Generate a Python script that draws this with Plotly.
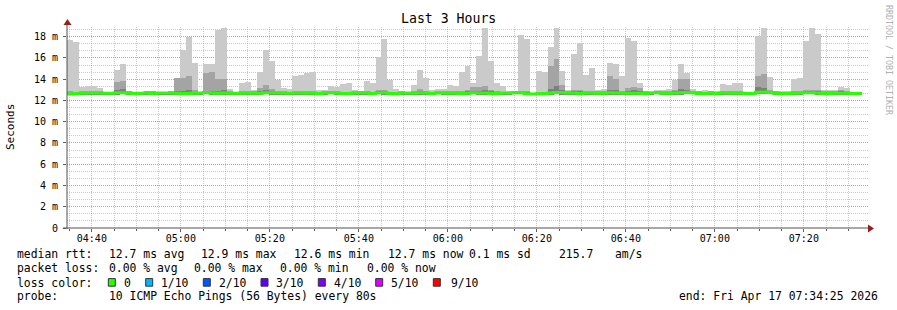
import plotly.graph_objects as go
from datetime import datetime, timedelta

# ---------------- data ----------------
t_start = datetime(2026, 4, 17, 4, 34, 25)
t_end = datetime(2026, 4, 17, 7, 34, 25)
step_s = 80  # seconds per RRD step

# smoke: outer band top (max ping), ms
hi = [17.7, 17.5, 13.3, 13.4, 13.4, 13.2, 12.8, 12.8, 14.9, 15.4,
      12.9, 12.8, 12.8, 12.9, 12.9, 12.75, 12.75, 12.9, 14.1, 16.75,
      18.0, 15.55, 12.75, 15.4, 15.4, 18.6, 18.85, 13.1, 12.75, 13.6,
      13.7, 13.0, 14.7, 16.75, 15.7, 13.9, 13.2, 13.1, 14.3, 14.4,
      14.55, 14.7, 13.0, 13.0, 13.4, 13.25, 13.55, 13.65, 13.0, 12.9,
      13.85, 13.65, 16.1, 17.8, 13.95, 13.05, 12.9, 12.8, 13.5, 14.9,
      14.15, 13.0, 13.1, 13.1, 13.5, 13.4, 14.7, 15.2, 13.65, 16.2,
      18.8, 15.7, 13.6, 13.4, 12.9, 12.9, 18.15, 17.75, 12.75, 14.8,
      14.7, 17.0, 18.85, 14.8, 13.0, 16.4, 17.45, 14.4, 15.1, 13.0,
      13.1, 15.55, 15.4, 14.3, 17.9, 17.6, 13.65, 12.9, 12.8, 13.0,
      13.0, 13.1, 13.9, 15.45, 14.6, 13.05, 12.9, 13.0, 12.9, 12.9,
      13.55, 13.45, 13.65, 13.65, 12.8, 12.8, 18.05, 18.85, 14.25, 12.9,
      12.9, 12.9, 14.0, 14.15, 17.6, 18.85, 18.25, 13.0, 13.0, 13.0,
      13.3, 13.2, 12.8, 12.8]

# smoke: second band top, ms
mid = [12.85, 12.80, 12.88, 12.85, 12.90, 12.85, 12.80, 12.80, 13.70, 13.80,
       12.90, 12.80, 12.80, 12.85, 12.85, 12.75, 12.75, 12.85, 14.10, 14.10,
       14.30, 13.00, 12.75, 14.60, 14.70, 14.00, 14.05, 12.90, 12.75, 12.85,
       12.85, 12.85, 13.20, 13.50, 13.10, 12.85, 12.85, 12.80, 12.90, 12.90,
       12.85, 12.85, 12.80, 12.85, 12.85, 12.85, 12.80, 12.80, 12.85, 12.85,
       12.85, 12.80, 13.00, 13.00, 12.80, 12.80, 12.85, 12.80, 12.85, 13.10,
       12.90, 12.80, 12.85, 12.85, 12.85, 12.85, 12.90, 13.00, 13.30, 13.30,
       13.40, 13.00, 12.85, 12.80, 12.80, 12.85, 12.85, 12.90, 12.75, 12.80,
       12.80, 15.20, 15.90, 13.50, 12.85, 12.95, 12.95, 12.85, 12.85, 12.85,
       12.85, 14.30, 14.00, 12.90, 13.20, 13.30, 13.20, 12.85, 12.80, 12.85,
       12.85, 12.90, 12.95, 14.00, 14.00, 12.90, 12.85, 12.80, 12.85, 12.80,
       12.85, 12.85, 12.85, 12.85, 12.80, 12.80, 14.30, 14.50, 13.00, 12.85,
       12.80, 12.80, 12.85, 12.90, 12.95, 13.00, 12.95, 12.85, 12.85, 12.85,
       12.95, 12.90, 12.80, 12.80]

# smoke: third band top, ms
inner = [12.75, 12.75, 12.78, 12.78, 12.80, 12.78, 12.75, 12.75, 13.00, 13.05,
         12.78, 12.75, 12.75, 12.78, 12.75, 12.75, 12.75, 12.78, 12.85, 12.85,
         12.95, 12.80, 12.75, 12.85, 12.85, 12.90, 12.95, 12.78, 12.75, 12.78,
         12.78, 12.78, 12.85, 12.95, 12.85, 12.78, 12.78, 12.75, 12.80, 12.80,
         12.78, 12.78, 12.75, 12.78, 12.80, 12.78, 12.75, 12.75, 12.78, 12.78,
         12.78, 12.75, 12.85, 12.85, 12.75, 12.75, 12.78, 12.75, 12.78, 12.85,
         12.80, 12.75, 12.78, 12.78, 12.78, 12.78, 12.80, 12.85, 12.90, 12.90,
         12.95, 12.85, 12.78, 12.75, 12.75, 12.80, 12.80, 12.80, 12.72, 12.75,
         12.78, 13.10, 13.40, 12.95, 12.78, 12.85, 12.85, 12.78, 12.78, 12.78,
         12.78, 13.00, 13.00, 12.80, 12.90, 12.95, 12.90, 12.78, 12.75, 12.78,
         12.78, 12.80, 12.85, 13.10, 13.00, 12.82, 12.78, 12.75, 12.78, 12.75,
         12.78, 12.78, 12.78, 12.78, 12.75, 12.75, 13.30, 13.15, 12.90, 12.78,
         12.75, 12.75, 12.78, 12.80, 12.85, 12.85, 12.85, 12.78, 12.78, 12.78,
         12.85, 12.80, 12.75, 12.75]

# smoke: bottom (min ping), ms
lo = [12.55, 12.58, 12.55, 12.56, 12.56, 12.56, 12.52, 12.54, 12.56, 12.58,
      12.50, 12.50, 12.55, 12.56, 12.50, 12.56, 12.56, 12.56, 12.52, 12.54,
      12.52, 12.56, 12.56, 12.58, 12.54, 12.52, 12.52, 12.56, 12.56, 12.56,
      12.52, 12.54, 12.56, 12.58, 12.56, 12.56, 12.56, 12.54, 12.56, 12.56,
      12.55, 12.50, 12.52, 12.56, 12.58, 12.52, 12.50, 12.52, 12.56, 12.56,
      12.56, 12.52, 12.58, 12.56, 12.52, 12.50, 12.56, 12.56, 12.54, 12.56,
      12.56, 12.52, 12.58, 12.56, 12.52, 12.56, 12.52, 12.55, 12.58, 12.56,
      12.56, 12.52, 12.52, 12.56, 12.54, 12.58, 12.58, 12.52, 12.48, 12.50,
      12.52, 12.56, 12.58, 12.50, 12.56, 12.56, 12.52, 12.56, 12.56, 12.54,
      12.54, 12.56, 12.56, 12.56, 12.55, 12.55, 12.55, 12.52, 12.58, 12.58,
      12.54, 12.54, 12.56, 12.56, 12.60, 12.58, 12.50, 12.52, 12.54, 12.52,
      12.56, 12.52, 12.54, 12.54, 12.52, 12.52, 12.60, 12.62, 12.60, 12.55,
      12.52, 12.52, 12.55, 12.56, 12.58, 12.58, 12.56, 12.52, 12.52, 12.54,
      12.54, 12.50, 12.52, 12.52]

# median rtt, ms
med = [12.62, 12.66, 12.68, 12.70, 12.70, 12.70, 12.68, 12.68, 12.72, 12.72,
       12.68, 12.66, 12.68, 12.70, 12.66, 12.70, 12.70, 12.70, 12.68, 12.66,
       12.66, 12.68, 12.70, 12.76, 12.70, 12.68, 12.70, 12.68, 12.68, 12.68,
       12.70, 12.68, 12.68, 12.72, 12.72, 12.70, 12.70, 12.68, 12.70, 12.70,
       12.68, 12.68, 12.64, 12.70, 12.72, 12.70, 12.66, 12.66, 12.70, 12.70,
       12.70, 12.66, 12.72, 12.72, 12.66, 12.64, 12.70, 12.70, 12.68, 12.72,
       12.70, 12.66, 12.70, 12.70, 12.68, 12.68, 12.66, 12.68, 12.72, 12.70,
       12.70, 12.66, 12.66, 12.70, 12.70, 12.72, 12.72, 12.64, 12.62, 12.64,
       12.66, 12.70, 12.74, 12.74, 12.70, 12.70, 12.66, 12.70, 12.70, 12.68,
       12.68, 12.72, 12.70, 12.70, 12.68, 12.68, 12.68, 12.66, 12.72, 12.72,
       12.68, 12.68, 12.70, 12.72, 12.76, 12.72, 12.66, 12.66, 12.68, 12.66,
       12.70, 12.70, 12.68, 12.68, 12.66, 12.66, 12.78, 12.80, 12.76, 12.68,
       12.66, 12.66, 12.68, 12.70, 12.72, 12.72, 12.70, 12.66, 12.66, 12.68,
       12.68, 12.68, 12.66, 12.66]

y_tick_vals = [0, 2, 4, 6, 8, 10, 12, 14, 16, 18]
y_tick_text = ["0", "2 m", "4 m", "6 m", "8 m", "10 m", "12 m", "14 m", "16 m", "18 m"]

smoke_colors = ["#cacaca", "#a4a4a4", "#7e7e7e"]
loss_labels = ["0", "1/10", "2/10", "3/10", "4/10", "5/10", "9/10"]
loss_colors = ["#26ff00", "#00b8ff", "#0059ff", "#5e00ff", "#7e00ff", "#dd00ff", "#ff0000"]

stats_line1 = ["median rtt:", "12.7 ms avg", "12.9 ms max", "12.6 ms min",
               "12.7 ms now", "0.1 ms sd", "215.7", "am/s"]
stats_line2 = ["packet loss:", "0.00 % avg", "0.00 % max", "0.00 % min", "0.00 % now"]
probe_text = "10 ICMP Echo Pings (56 Bytes) every 80s"
end_text = "end: Fri Apr 17 07:34:25 2026"

# ---------------- layout geometry (pixels) ----------------
W, H = 897, 310
L, R, T, B = 67, 868, 27, 228
FONT = "DejaVu Sans Mono"


def px(x):
    return (x - L) / (R - L)


def py(y):
    return (B - y) / (B - T)


x_centers = [t_start + timedelta(seconds=step_s * k + step_s / 2) for k in range(len(hi))]
x_edges = [t_start + timedelta(seconds=step_s * k) for k in range(len(hi) + 1)]

fig = go.Figure()
for top, col in zip([hi, mid, inner], smoke_colors):
    fig.add_trace(go.Bar(
        x=x_centers, y=[a - b for a, b in zip(top, lo)], base=lo,
        width=step_s * 1000, marker=dict(color=col, line=dict(width=0)),
        hoverinfo="skip"))

fig.add_trace(go.Scatter(
    x=x_edges, y=med + [med[-1]], mode="lines", line_shape="hv",
    line=dict(color=loss_colors[0], width=3), hoverinfo="skip"))

ymax = (B - T) / ((B - 36.7) / 18.0)

fig.update_layout(
    width=W, height=H, margin=dict(l=L, r=W - R, t=T, b=H - B, pad=0),
    paper_bgcolor="white", plot_bgcolor="white", showlegend=False,
    barmode="overlay", bargap=0,
    font=dict(family=FONT, color="#000"),
    xaxis=dict(
        type="date", range=[t_start, t_end],
        tick0="2026-04-17 04:40:00", dtick=20 * 60 * 1000, tickformat="%H:%M",
        showgrid=True, gridcolor="rgba(255,90,90,0.5)", griddash="1px,1px", gridwidth=1,
        minor=dict(dtick=5 * 60 * 1000, tick0="2026-04-17 04:40:00", showgrid=True,
                   gridcolor="rgba(150,150,150,0.5)", griddash="1px,1px", gridwidth=1,
                   ticks="outside", ticklen=2, tickcolor="#606060"),
        ticks="outside", ticklen=3, tickcolor="#606060",
        showline=False, zeroline=False,
        tickfont=dict(family=FONT, size=10, color="#000"),
        ticklabelstandoff=-2,
    ),
    yaxis=dict(
        range=[0, ymax], tickvals=y_tick_vals, ticktext=y_tick_text,
        showgrid=True, gridcolor="rgba(255,90,90,0.5)", griddash="1px,1px", gridwidth=1,
        minor=dict(dtick=2 / 3, tick0=0, showgrid=True,
                   gridcolor="rgba(150,150,150,0.5)", griddash="1px,1px", gridwidth=1),
        ticks="outside", ticklen=3, tickcolor="#606060",
        showline=False, zeroline=False,
        tickfont=dict(family=FONT, size=10, color="#000"),
        ticklabelstandoff=3,
    ),
)

shapes = []
axis_col = "#505050"
arrow_col = "#9a1c1c"
shapes.append(dict(type="line", xref="paper", yref="paper", x0=0, x1=0, y0=py(229), y1=py(22),
                   line=dict(color=axis_col, width=1)))
shapes.append(dict(type="line", xref="paper", yref="paper", x0=px(63), x1=px(871), y0=0, y1=0,
                   line=dict(color=axis_col, width=1)))
shapes.append(dict(type="path", xref="paper", yref="paper",
                   path=f"M {px(63.5)},{py(25)} L {px(67.5)},{py(19)} L {px(71.5)},{py(25)} Z",
                   fillcolor=arrow_col, line=dict(color=arrow_col, width=0)))
shapes.append(dict(type="path", xref="paper", yref="paper",
                   path=f"M {px(868)},{py(224.5)} L {px(874)},{py(228.5)} L {px(868)},{py(232.5)} Z",
                   fillcolor=arrow_col, line=dict(color=arrow_col, width=0)))

annotations = []


def ann(text, x, y, size=11.4, color="#000", xanchor="left", angle=0):
    annotations.append(dict(text=text, xref="paper", yref="paper", x=px(x), y=py(y),
                            xanchor=xanchor, yanchor="middle", showarrow=False,
                            textangle=angle, borderpad=0,
                            font=dict(family=FONT, size=size, color=color)))


ann("Last 3 Hours", 448, 19, size=13.2, xanchor="center")
ann("Seconds", 11, 127, size=11, xanchor="center", angle=-90)
ann("RRDTOOL / TOBI OETIKER", 889, 60, size=8.3, color="#b0b0b0", xanchor="center", angle=90)

line1_x = [16, 107.5, 200, 293, 386.5, 468.3, 558.3, 614.3]
for txt, x in zip(stats_line1, line1_x):
    ann(txt, x, 254.3)
line2_x = [16, 107.5, 193.3, 279.3, 365.7]
for txt, x in zip(stats_line2, line2_x):
    ann(txt, x, 268.3)
ann("loss color:", 16, 282.7)
box_x = [108.3, 145.7, 203.3, 261, 318.3, 375.7, 433.3]
lab_x = [123.3, 160, 217.7, 275.3, 333.3, 390, 450]
for lbl, col, bx, lx in zip(loss_labels, loss_colors, box_x, lab_x):
    shapes.append(dict(type="rect", xref="paper", yref="paper",
                       x0=px(bx), x1=px(bx + 7), y0=py(286.2), y1=py(278.6),
                       fillcolor=col, line=dict(color="#333", width=1)))
    ann(lbl, lx, 282.7)
ann("probe:", 16, 296.3)
ann(probe_text, 107.5, 296.3)
ann(end_text, 677.7, 296.3)

fig.update_layout(shapes=shapes, annotations=annotations)
fig.write_html("out.html")
